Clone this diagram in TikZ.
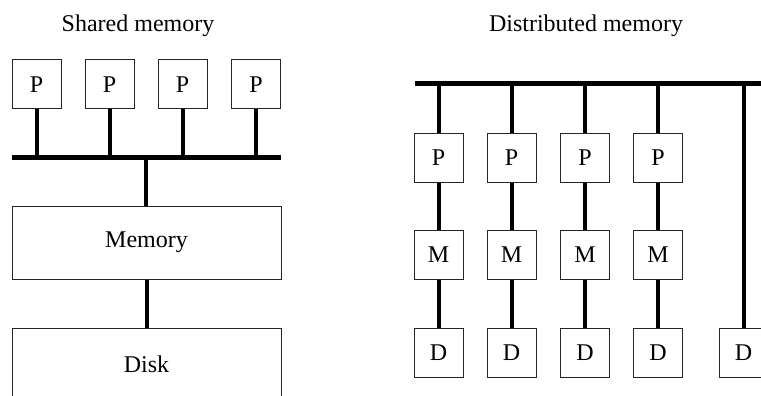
\documentclass[tikz,border=0pt]{standalone}
\usepackage{fontspec}
\setmainfont{Liberation Serif}
\begin{document}
\begin{tikzpicture}[x=1pt,y=-1pt,
  unit/.style={draw=black!85,line width=1pt,fill=white,minimum width=49pt,minimum height=49pt,inner sep=0pt,font=\fontsize{24}{28}\selectfont},
  wide/.style={draw=black!85,line width=1pt,fill=white,minimum width=269pt,minimum height=73pt,inner sep=0pt,font=\fontsize{24}{28}\selectfont},
  title/.style={anchor=base,inner sep=0pt,font=\fontsize{24}{28}\selectfont},
  link/.style={line width=4pt},
  bus/.style={line width=5pt}]
\useasboundingbox (0,0) rectangle (761,396);
\clip (0,0) rectangle (761,396);

% ---- shared memory ----
\node[title] (tshared) at (138,32) {Shared memory};
\foreach \i/\x in {1/36.5,2/109.5,3/182.5,4/256}
  \node[unit] (sp\i) at (\x,84.5) {P};
\coordinate (sbusL) at (12,157);
\coordinate (sbusR) at (281,157);
\node[wide] (mem) at (146.5,242.5) {Memory};
\node[wide] (disk) at (146.5,364.5) {Disk};
\draw[bus] (sbusL) -- (sbusR);
\foreach \i in {1,...,4}
  \draw[link] (sp\i.south) -- (sp\i.south |- sbusL);
\draw[link] (mem.north -| 146,0) -- (146,157);
\draw[link] (mem.south) -- (disk.north);

% ---- distributed memory ----
\node[title] (tdist) at (586,32) {Distributed memory};
\coordinate (dbusL) at (415,84);
\coordinate (dbusR) at (770,84);
\draw[bus] (dbusL) -- (dbusR);
\foreach \i/\x in {1/438.5,2/511.5,3/585,4/658}{
  \node[unit] (dp\i) at (\x,157.5) {P};
  \node[unit] (dm\i) at (\x,255) {M};
  \node[unit] (dd\i) at (\x,352.5) {D};
  \draw[link] (dp\i.north |- dbusL) -- (dp\i.north);
  \draw[link] (dp\i.south) -- (dm\i.north);
  \draw[link] (dm\i.south) -- (dd\i.north);
}
\node[unit] (dd5) at (743.5,352.5) {D};
\draw[link] (dd5.north |- dbusL) -- (dd5.north);
\end{tikzpicture}
\end{document}
